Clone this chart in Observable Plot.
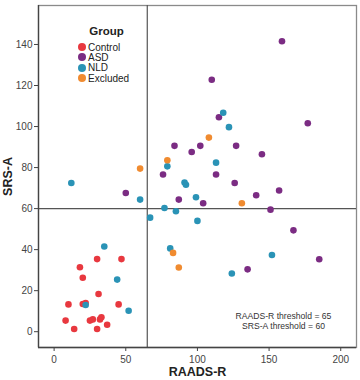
<!DOCTYPE html>
<html>
<head>
<meta charset="utf-8">
<script src="https://cdn.jsdelivr.net/npm/d3@7"></script>
<script src="https://cdn.jsdelivr.net/npm/@observablehq/plot@0.6"></script>
<style>
  html, body { margin: 0; padding: 0; background: #fff; }
  #chart { position: relative; width: 360px; height: 380px; font-family: "Liberation Sans", Arial, sans-serif; }
  #legend { position: absolute; left: 78px; top: 24px; font-size: 10px; color: #222; }
  #legend .title { font-weight: bold; font-size: 11.5px; line-height: 14px; text-align: center; margin-left: 6px; margin-bottom: 4px; }
  #legend .item { display: flex; align-items: center; height: 10.3px; }
  #legend .sw { width: 8px; height: 8px; border-radius: 50%; margin-right: 2px; }
</style>
</head>
<body>
<div id="chart"><div id="legend"></div></div>
<script>
// Group names and colours
const groups = ["Control", "ASD", "NLD", "Excluded"];
const groupColors = ["#e8383f", "#7b2c83", "#2a93b6", "#f08b30"];

// RAADS-R (x) and SRS-A (y) scores per group
const controlX = [30, 47, 18, 20, 31, 10, 20, 22, 45, 8, 25, 27, 32, 33, 14, 30, 37];
const controlY = [35.4, 35.4, 31.4, 26.3, 18.4, 13.3, 13.5, 14, 13.3, 5.4, 5.4, 6, 6, 7, 1.3, 1.3, 3.4];

const asdX = [50, 76, 84, 102, 96, 113, 87, 104, 159, 110, 115, 177, 127, 145, 126, 157, 141, 151, 167, 185, 135];
const asdY = [67.6, 76.6, 90.6, 90.6, 87.6, 76.6, 64.4, 62.6, 141.6, 122.8, 104.5, 101.6, 90.6, 86.5, 72.5, 68.8, 66.5, 59.5, 49.4, 35.3, 30.4];

const nldX = [35, 44, 22, 52, 12, 79, 113, 91, 92, 60, 99, 77, 85, 67, 100, 81, 124, 152, 118, 122];
const nldY = [41.5, 25.4, 13, 10.2, 72.5, 80.6, 82.4, 72.7, 71.6, 64.4, 65.5, 60.3, 58.7, 55.6, 54, 40.6, 28.4, 37.4, 106.7, 99.7];

const excludedX = [60, 79, 108, 131, 83, 87];
const excludedY = [79.5, 83.6, 94.6, 62.6, 38.4, 31.3];

// Thresholds and axis ticks
const raadsThreshold = 65;
const srsThreshold = 60;
const xTicks = [0, 50, 100, 150, 200];
const yTicks = [0, 20, 40, 60, 80, 100, 120, 140];

const series = [
  {group: "Control", xs: controlX, ys: controlY},
  {group: "ASD", xs: asdX, ys: asdY},
  {group: "NLD", xs: nldX, ys: nldY},
  {group: "Excluded", xs: excludedX, ys: excludedY}
];
const points = series.flatMap(s => s.xs.map((x, i) => ({group: s.group, x, y: s.ys[i]})));

const chart = Plot.plot({
  width: 360,
  height: 380,
  marginLeft: 38,
  marginRight: 4,
  marginTop: 5,
  marginBottom: 33,
  style: {fontFamily: "'Liberation Sans', Arial, sans-serif", fontSize: "10px", color: "#333", background: "#fff"},
  x: {domain: [-10.9, 211]},
  y: {domain: [-7.7, 159]},
  color: {domain: groups, range: groupColors},
  marks: [
    Plot.frame({stroke: "#8a8a8a", strokeWidth: 1.3}),
    Plot.ruleX([raadsThreshold], {stroke: "#555", strokeWidth: 1.2}),
    Plot.ruleY([srsThreshold], {stroke: "#555", strokeWidth: 1.2}),
    Plot.axisX(xTicks, {tickSize: 4, tickPadding: 4, stroke: "#444", fill: "#444", label: "RAADS-R", labelAnchor: "center", labelArrow: "none", labelOffset: 28}),
    Plot.axisY(yTicks, {tickSize: 4, tickPadding: 2, stroke: "#444", fill: "#444", label: "SRS-A", labelAnchor: "center", labelArrow: "none", labelOffset: 35}),
    Plot.ruleX([-10.9], {stroke: "#444", strokeWidth: 1.3}),
    Plot.ruleY([-7.7], {stroke: "#444", strokeWidth: 1.3}),
    Plot.dot(points, {x: "x", y: "y", fill: "group", r: 3.3}),
    Plot.text([`RAADS-R threshold = ${raadsThreshold}\nSRS-A threshold = ${srsThreshold}`], {
      frameAnchor: "bottom-right", textAnchor: "middle", lineAnchor: "bottom",
      dx: -73, dy: -19, fontSize: 8.6, fill: "#333", lineHeight: 1.05
    })
  ]
});

// Bold axis titles
chart.querySelectorAll("[aria-label$='axis label'] text").forEach(t => {
  t.setAttribute("font-weight", "bold");
  t.setAttribute("font-size", "12.5");
  t.setAttribute("fill", "#222");
});

document.getElementById("chart").prepend(chart);

// Group legend drawn over the plot area
const legend = document.getElementById("legend");
const title = document.createElement("div");
title.className = "title";
title.textContent = "Group";
legend.appendChild(title);
groups.forEach((g, i) => {
  const item = document.createElement("div");
  item.className = "item";
  const sw = document.createElement("span");
  sw.className = "sw";
  sw.style.background = groupColors[i];
  const label = document.createElement("span");
  label.textContent = g;
  item.appendChild(sw);
  item.appendChild(label);
  legend.appendChild(item);
});
</script>
</body>
</html>
